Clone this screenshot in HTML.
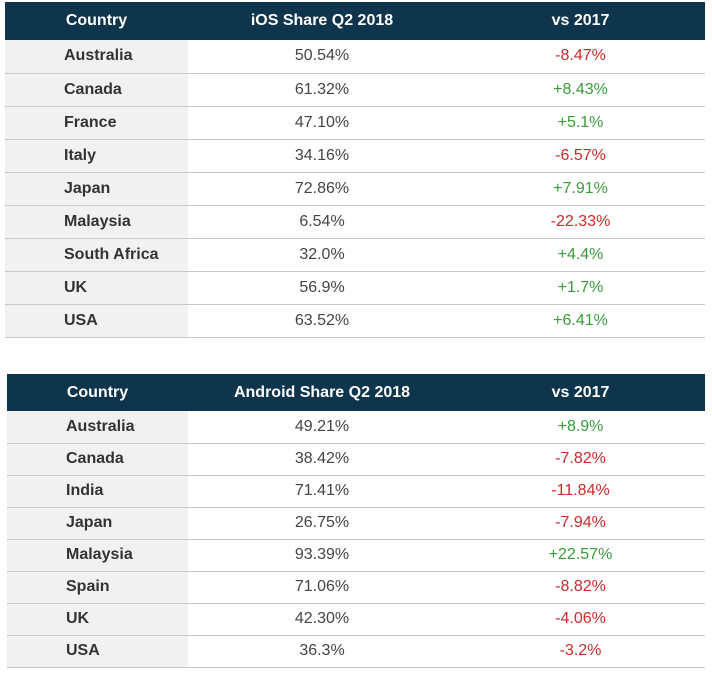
<!DOCTYPE html>
<html><head><meta charset="utf-8"><style>
body{margin:0;width:712px;height:673px;background:#fff;font-family:"Liberation Sans",sans-serif;position:relative;overflow:hidden}
table{position:absolute;border-collapse:collapse;table-layout:fixed}
th{background:#0e354b;color:#fff;font-weight:bold;font-size:16px;text-align:center;padding:0}
td{font-size:16px;padding:0;border-bottom:1px solid #c8c8c8;text-align:center;color:#444}
td.c{background:#f1f1f1;font-weight:bold;color:#333;text-align:left;padding-left:59px}
.r{color:#cc2b2b}.g{color:#3b9b3b}
</style></head><body>
<table style="left:5px;top:2px;width:700px">
<colgroup><col style="width:183px"><col style="width:268px"><col style="width:249px"></colgroup>
<tr style="height:38px"><th>Country</th><th>iOS Share Q2 2018</th><th>vs 2017</th></tr>
<tr style="height:33px"><td class="c">Australia</td><td>50.54%</td><td class="r">-8.47%</td></tr>
<tr style="height:33px"><td class="c">Canada</td><td>61.32%</td><td class="g">+8.43%</td></tr>
<tr style="height:33px"><td class="c">France</td><td>47.10%</td><td class="g">+5.1%</td></tr>
<tr style="height:33px"><td class="c">Italy</td><td>34.16%</td><td class="r">-6.57%</td></tr>
<tr style="height:33px"><td class="c">Japan</td><td>72.86%</td><td class="g">+7.91%</td></tr>
<tr style="height:33px"><td class="c">Malaysia</td><td>6.54%</td><td class="r">-22.33%</td></tr>
<tr style="height:33px"><td class="c">South Africa</td><td>32.0%</td><td class="g">+4.4%</td></tr>
<tr style="height:33px"><td class="c">UK</td><td>56.9%</td><td class="g">+1.7%</td></tr>
<tr style="height:33px"><td class="c">USA</td><td>63.52%</td><td class="g">+6.41%</td></tr>
</table>
<table style="left:7px;top:374px;width:698px">
<colgroup><col style="width:181px"><col style="width:268px"><col style="width:249px"></colgroup>
<tr style="height:37px"><th>Country</th><th>Android Share Q2 2018</th><th>vs 2017</th></tr>
<tr style="height:32px"><td class="c">Australia</td><td>49.21%</td><td class="g">+8.9%</td></tr>
<tr style="height:32px"><td class="c">Canada</td><td>38.42%</td><td class="r">-7.82%</td></tr>
<tr style="height:32px"><td class="c">India</td><td>71.41%</td><td class="r">-11.84%</td></tr>
<tr style="height:32px"><td class="c">Japan</td><td>26.75%</td><td class="r">-7.94%</td></tr>
<tr style="height:32px"><td class="c">Malaysia</td><td>93.39%</td><td class="g">+22.57%</td></tr>
<tr style="height:32px"><td class="c">Spain</td><td>71.06%</td><td class="r">-8.82%</td></tr>
<tr style="height:32px"><td class="c">UK</td><td>42.30%</td><td class="r">-4.06%</td></tr>
<tr style="height:32px"><td class="c">USA</td><td>36.3%</td><td class="r">-3.2%</td></tr>
</table>
</body></html>
